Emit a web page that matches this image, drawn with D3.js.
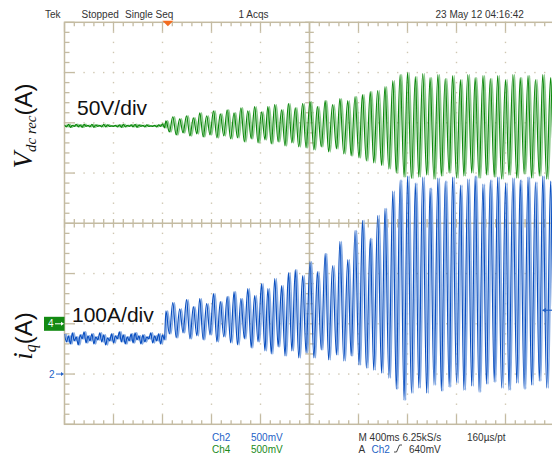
<!DOCTYPE html>
<html><head><meta charset="utf-8">
<script src="https://cdn.jsdelivr.net/npm/d3@7"></script>
<style>body{margin:0;background:#fff}svg{display:block}</style>
</head><body><svg id="c" width="552" height="454"></svg>
<script>
// ---- data (time and amplitude in screen divisions) ----
const preT = [0,0.04,0.08,0.12,0.16,0.2,0.24,0.28,0.32,0.36,0.4,0.44,0.48,0.52,0.56,0.6,0.64,0.68,0.72,0.76,0.8,0.84,0.88,0.92,0.96,1,1.04,1.08,1.12,1.16,1.2,1.24,1.28,1.32,1.36,1.4,1.44,1.48,1.52,1.56,1.6,1.64,1.68,1.72,1.76,1.8,1.84,1.88,1.92,1.96,2,2.04];
const vdcPre = [1.96,1.92,1.97,1.91,1.95,1.93,1.97,1.92,1.96,1.91,1.97,1.93,1.95,1.92,1.97,1.91,1.96,1.93,1.95,1.92,1.97,1.92,1.96,1.93,1.94,1.93,1.95,1.92,1.96,1.91,1.97,1.92,1.95,1.93,1.96,1.92,1.97,1.91,1.96,1.93,1.95,1.92,1.96,1.93,1.94,1.93,1.95,1.92,1.96,1.93,1.98,1.90];
const iqPre = [-2.20,-2.36,-2.24,-2.40,-2.18,-2.34,-2.26,-2.42,-2.22,-2.30,-2.16,-2.38,-2.24,-2.34,-2.20,-2.40,-2.26,-2.32,-2.18,-2.36,-2.22,-2.42,-2.28,-2.34,-2.20,-2.38,-2.24,-2.30,-2.16,-2.36,-2.22,-2.40,-2.26,-2.34,-2.20,-2.38,-2.18,-2.32,-2.24,-2.40,-2.22,-2.36,-2.26,-2.30,-2.18,-2.38,-2.24,-2.34,-2.20,-2.40,-2.22,-2.32];
// times of successive extremes (peak, trough, peak, ...) of the oscillation
const oscT = [2.07,2.14,2.21,2.28,2.35,2.42,2.49,2.56,2.63,2.70,2.76,2.83,2.90,2.97,3.04,3.11,3.18,3.25,3.32,3.39,3.46,3.53,3.60,3.67,3.74,3.81,3.88,3.95,4.02,4.09,4.15,4.22,4.29,4.36,4.43,4.50,4.57,4.64,4.71,4.78,
 4.86,4.93,5.01,5.09,5.16,5.24,5.32,5.39,5.47,5.55,5.62,5.70,5.78,5.85,5.93,6.01,6.08,6.16,6.24,6.31,6.39,6.47,6.54,6.62,6.70,6.77,6.85,6.93,7.00,7.08,7.16,7.23,7.31,7.39,7.46,7.54,7.62,7.69,7.77,7.85,7.92,8.00,8.08,8.15,8.23,8.31,8.38,8.46,8.54,8.61,8.69,8.77,8.84,8.92,9.00,9.07,9.15,9.23,9.30,9.38,9.46,9.53,9.61,9.69,9.76,9.84,9.92,9.99,10.07];
const vdcPeaks = [2.04,2.12,2.08,2.14,2.10, 2.20,2.14,2.24,2.18,2.26, 2.20,2.30,2.24,2.32,2.22, 2.32,2.36,2.26,2.38,2.30, 2.38,2.42,2.32,2.44,2.36, 2.48,2.44,2.52,2.56,2.62, 2.64,2.72,2.84,2.96,3.00, 2.92,2.98,2.90,2.96,2.88, 2.94,2.86,2.96,2.90,2.94, 2.88,2.94,2.86,2.96,2.90, 2.94,2.86,2.96,2.90,2.92];
const vdcTroughs = [1.82,1.76,1.80,1.74,1.78, 1.72,1.76,1.70,1.74,1.68, 1.70,1.62,1.68,1.60,1.66, 1.58,1.62,1.54,1.60,1.52, 1.50,1.46,1.52,1.42,1.48, 1.38,1.34,1.30,1.24,1.20, 1.15,1.08,1.00,0.92,0.89, 0.92,0.96,0.88,0.94,1.00, 0.90,0.94,1.00,0.90,0.96, 0.92,0.88,0.96,0.90,0.98, 0.90,0.94,0.88,0.94];
const iqPeaks = [-1.74,-1.58,-1.70,-1.52,-1.66, -1.50,-1.60,-1.40,-1.56,-1.46, -1.36,-1.50,-1.30,-1.44,-1.20, -1.30,-1.10,-1.24,-0.98,-0.92, -1.04,-0.76,-0.96,-0.60,-0.84, -0.36,-0.72,-0.14,0.06,-0.30, 0.16,0.30,0.64,0.86,0.94, 0.80,0.92,0.70,0.90,0.84, 0.92,0.76,0.88,0.94,0.78, 0.86,0.92,0.80,0.90,0.86, 0.92,0.82,0.94,0.84,0.88];
const iqTroughs = [-2.20,-2.28,-2.18,-2.30,-2.24, -2.32,-2.22,-2.36,-2.26,-2.38, -2.42,-2.30,-2.48,-2.36,-2.54, -2.60,-2.46,-2.64,-2.54,-2.68, -2.58,-2.68,-2.52,-2.72,-2.62, -2.74,-2.64,-2.82,-2.88,-2.92, -2.98,-3.08,-3.30,-3.52,-3.38, -3.28,-3.38,-3.22,-3.34,-3.26, -3.18,-3.32,-3.24,-3.36,-3.20, -3.16,-3.28,-3.32,-3.18,-3.30, -3.22,-3.14,-3.28,-3.20];
const refLevels = {ch4: -2.0, ch2: -3.0, trig: -1.73};
const triggerPos = 2.11;
const headerTexts = ["Tek", "Stopped", "Single Seq", "1 Acqs", "23 May 12 04:16:42"];
const scaleLabels = ["50V/div", "100A/div"];

// ---- scales ----
const svg = d3.select("#c");
const x = d3.scaleLinear().domain([0, 10]).range([64.5, 554.5]);
const y = d3.scaleLinear().domain([-4, 4]).range([424.3, 22.3]);
const tan = "#c4bba2", dotC = "#cfc7b2";
const X0 = x(0), X1 = x(10), Y0 = y(4), Y1 = y(-4);
const minor = d3.range(0, 50.01, 1).map(d => d / 5);
const minorY = d3.range(-20, 20.01, 1).map(d => d / 5);

// ---- graticule ----
const g = svg.append("g");
[1,2,3,4,6,7,8,9].forEach(k => minorY.forEach(v => {
  g.append("rect").attr("x", x(k) - 0.7).attr("y", y(v) - 0.7).attr("width", 1.4).attr("height", 1.4).attr("fill", dotC);
}));
[-3,-2,-1,1,2,3].forEach(j => minor.forEach(t => {
  g.append("rect").attr("x", x(t) - 0.7).attr("y", y(j) - 0.7).attr("width", 1.4).attr("height", 1.4).attr("fill", dotC);
}));
g.append("rect").attr("x", X0).attr("y", Y0).attr("width", X1 - X0).attr("height", Y1 - Y0)
  .attr("fill", "none").attr("stroke", tan).attr("stroke-width", 1.5);
minor.forEach(t => {
  const major = Math.abs(t - Math.round(t)) < 1e-6;
  const L = major ? 9.5 : 4;
  g.append("line").attr("x1", x(t)).attr("x2", x(t)).attr("y1", Y0).attr("y2", Y0 + L).attr("stroke", tan).attr("stroke-width", 1.3);
  g.append("line").attr("x1", x(t)).attr("x2", x(t)).attr("y1", Y1).attr("y2", Y1 - L).attr("stroke", tan).attr("stroke-width", 1.3);
});
minorY.forEach(v => {
  const major = Math.abs(v - Math.round(v)) < 1e-6;
  const L = major ? 10 : 5;
  g.append("line").attr("y1", y(v)).attr("y2", y(v)).attr("x1", X0).attr("x2", X0 + L).attr("stroke", tan).attr("stroke-width", 1.3);
});
g.append("line").attr("x1", X0).attr("x2", X1).attr("y1", y(0)).attr("y2", y(0)).attr("stroke", tan).attr("stroke-width", 1.6);
g.append("line").attr("x1", x(5)).attr("x2", x(5)).attr("y1", Y0).attr("y2", Y1).attr("stroke", tan).attr("stroke-width", 1.6);
minor.forEach(t => g.append("line").attr("x1", x(t)).attr("x2", x(t)).attr("y1", y(0) - 4.3).attr("y2", y(0) + 4.3).attr("stroke", tan).attr("stroke-width", 1.3));
minorY.forEach(v => g.append("line").attr("y1", y(v)).attr("y2", y(v)).attr("x1", x(5) - 4.3).attr("x2", x(5) + 4.3).attr("stroke", tan).attr("stroke-width", 1.3));

// ---- traces ----
function series(pre, peaks, troughs) {
  const pts = preT.map((t, i) => [t, pre[i]]);
  oscT.forEach((t, i) => pts.push([t, i % 2 === 0 ? peaks[i / 2] : troughs[(i - 1) / 2]]));
  return pts;
}
const line = d3.line().x(d => x(d[0])).y(d => y(d[1])).curve(d3.curveMonotoneX);
svg.append("clipPath").attr("id", "clip").append("rect").attr("x", X0).attr("y", Y0).attr("width", X1 - X0).attr("height", Y1 - Y0);
const tr = svg.append("g").attr("clip-path", "url(#clip)");
function drawTrace(data, light, dark) {
  tr.append("path").attr("d", line(data)).attr("fill", "none").attr("stroke", light).attr("stroke-width", 1.6).attr("transform", "translate(1.6,0)");
  tr.append("path").attr("d", line(data)).attr("fill", "none").attr("stroke", dark).attr("stroke-width", 1.2);
}
drawTrace(series(iqPre, iqPeaks, iqTroughs), "#86abe3", "#0a4fc0");
drawTrace(series(vdcPre, vdcPeaks, vdcTroughs), "#8cca8c", "#0c880c");

// ---- trigger marker ----
svg.append("path").attr("d", `M${x(triggerPos) - 5.5},${Y0 - 1.5} h11 l-5.5,5.5 z`).attr("fill", "#f26d21");

// ---- channel reference markers ----
const m4 = svg.append("g");
m4.append("rect").attr("x", 44).attr("y", y(refLevels.ch4) - 7).attr("width", X0 - 44).attr("height", 14).attr("fill", "#138a13");
m4.append("text").attr("x", 48).attr("y", y(refLevels.ch4) + 3.5).attr("fill", "#fff").attr("font-family", "Liberation Sans, Arial, sans-serif").attr("font-size", 10).text("4");
m4.append("line").attr("x1", 55).attr("x2", 61).attr("y1", y(refLevels.ch4)).attr("y2", y(refLevels.ch4)).attr("stroke", "#fff").attr("stroke-width", 1);
m4.append("path").attr("d", `M${61},${y(refLevels.ch4) - 2} l3,2 l-3,2 z`).attr("fill", "#fff");
const m2 = svg.append("g");
m2.append("text").attr("x", 49).attr("y", y(refLevels.ch2) + 3.5).attr("fill", "#2462c6").attr("font-family", "Liberation Sans, Arial, sans-serif").attr("font-size", 10).text("2");
m2.append("line").attr("x1", 56).attr("x2", 62).attr("y1", y(refLevels.ch2)).attr("y2", y(refLevels.ch2)).attr("stroke", "#2462c6").attr("stroke-width", 1);
m2.append("path").attr("d", `M${61},${y(refLevels.ch2) - 2} l3,2 l-3,2 z`).attr("fill", "#2462c6");
const mt = svg.append("g");
mt.append("line").attr("x1", 545).attr("x2", 552).attr("y1", y(refLevels.trig)).attr("y2", y(refLevels.trig)).attr("stroke", "#2462c6").attr("stroke-width", 1.2);
mt.append("path").attr("d", `M${542},${y(refLevels.trig)} l4,-2.5 v5 z`).attr("fill", "#2462c6");

// ---- header / footer text ----
const small = "Liberation Sans, Arial, sans-serif";
const hdr = [[45, headerTexts[0]], [81.5, headerTexts[1]], [125, headerTexts[2]], [238.5, headerTexts[3]], [435.5, headerTexts[4]]];
hdr.forEach(([px, s]) => svg.append("text").attr("x", px).attr("y", 17.5).attr("font-family", small).attr("font-size", 10).attr("fill", "#333").text(s));
const foot = [[212, 440.5, "Ch2", "#2462c6"], [251, 440.5, "500mV", "#2462c6"], [212, 453, "Ch4", "#1a8a1a"], [251, 453, "500mV", "#1a8a1a"],
  [358.5, 440.5, "M 400ms 6.25kS/s", "#333"], [467, 440.5, "160\u00b5s/pt", "#333"], [358.5, 453, "A", "#333"], [371.5, 453, "Ch2", "#2462c6"], [409, 453, "640mV", "#333"]];
foot.forEach(([px, py, s, c]) => svg.append("text").attr("x", px).attr("y", py).attr("font-family", small).attr("font-size", 10).attr("fill", c).text(s));
svg.append("path").attr("d", "M394,452 h2.5 l3,-7 h2.5").attr("fill", "none").attr("stroke", "#333").attr("stroke-width", 0.9);

// ---- annotations ----
svg.append("text").attr("x", 77).attr("y", 115).attr("font-family", "Liberation Sans, Arial, sans-serif").attr("font-size", 21).attr("fill", "#111").text(scaleLabels[0]);
svg.append("text").attr("x", 72).attr("y", 322).attr("font-family", "Liberation Sans, Arial, sans-serif").attr("font-size", 21).attr("fill", "#111").text(scaleLabels[1]);

const serif = "Liberation Serif, Times New Roman, serif";
const lv = svg.append("text").attr("transform", "translate(32,126) rotate(-90)").attr("text-anchor", "middle").attr("fill", "#111");
lv.append("tspan").attr("font-family", serif).attr("font-style", "italic").attr("font-size", 27).text("V");
lv.append("tspan").attr("font-family", serif).attr("font-style", "italic").attr("font-size", 15).attr("dy", 4).text("dc rec");
lv.append("tspan").attr("font-family", "Liberation Sans, Arial, sans-serif").attr("font-size", 24).attr("dy", -4).text("(A)");
const li = svg.append("text").attr("transform", "translate(32,336) rotate(-90)").attr("text-anchor", "middle").attr("fill", "#111");
li.append("tspan").attr("font-family", serif).attr("font-style", "italic").attr("font-size", 27).text("i");
li.append("tspan").attr("font-family", serif).attr("font-style", "italic").attr("font-size", 16).attr("dy", 4).text("q");
li.append("tspan").attr("font-family", "Liberation Sans, Arial, sans-serif").attr("font-size", 24).attr("dy", -4).text("(A)");
</script></body></html>
